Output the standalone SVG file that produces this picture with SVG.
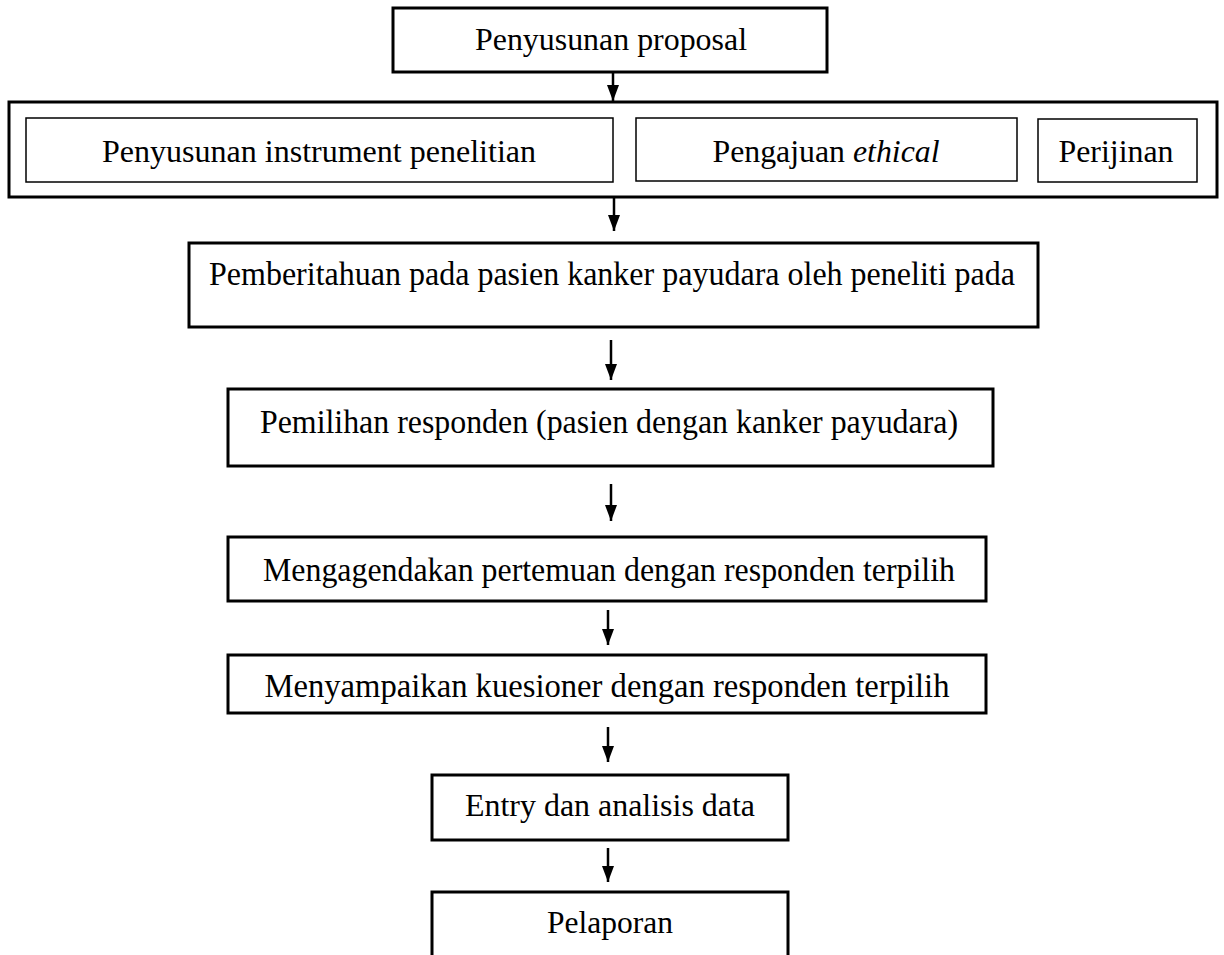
<svg xmlns="http://www.w3.org/2000/svg" width="1224" height="955" viewBox="0 0 1224 955">
<style>
.box{fill:#fff;stroke:#000;stroke-width:3}
.thin{fill:#fff;stroke:#000;stroke-width:1.5}
.t{font-family:"Liberation Serif","Times New Roman",serif;font-size:32px;fill:#000;text-anchor:middle}
.tl{font-size:34px}
.c{stroke:#000;stroke-width:2.5;fill:none;marker-end:url(#ah)}
</style>
<defs>
<marker id="ah" viewBox="0 0 16 12" refX="16" refY="6" markerWidth="16" markerHeight="12" markerUnits="userSpaceOnUse" orient="auto">
<path d="M0,0 L16,6 L0,12 z" fill="#000"/>
</marker>
</defs>
<rect width="1224" height="955" fill="#fff"/>
<g id="n1">
<rect class="box" x="393" y="8" width="434" height="64"/>
<text class="t" x="611" y="50" textLength="272" lengthAdjust="spacingAndGlyphs">Penyusunan proposal</text>
</g>
<g id="n2">
<rect class="box" x="9" y="102" width="1208" height="95"/>
<g id="n2a">
<rect class="thin" x="26" y="118" width="587" height="64"/>
<text class="t" x="319" y="162" textLength="434" lengthAdjust="spacingAndGlyphs">Penyusunan instrument penelitian</text>
</g>
<g id="n2b">
<rect class="thin" x="636" y="118" width="381" height="63"/>
<text class="t" x="826" y="162" textLength="227" lengthAdjust="spacingAndGlyphs">Pengajuan <tspan font-style="italic">ethical</tspan></text>
</g>
<g id="n2c">
<rect class="thin" x="1038" y="119" width="159" height="63"/>
<text class="t" x="1116" y="162" textLength="115" lengthAdjust="spacingAndGlyphs">Perijinan</text>
</g>
</g>
<g id="n3">
<rect class="box" x="189" y="243" width="849" height="84"/>
<text class="t tl" x="612" y="285" textLength="806" lengthAdjust="spacingAndGlyphs">Pemberitahuan pada pasien kanker payudara oleh peneliti pada</text>
</g>
<g id="n4">
<rect class="box" x="228" y="389" width="765" height="77"/>
<text class="t tl" x="609" y="433" textLength="698" lengthAdjust="spacingAndGlyphs">Pemilihan responden (pasien dengan kanker payudara)</text>
</g>
<g id="n5">
<rect class="box" x="228" y="537" width="758" height="64"/>
<text class="t tl" x="609" y="581" textLength="692" lengthAdjust="spacingAndGlyphs">Mengagendakan pertemuan dengan responden terpilih</text>
</g>
<g id="n6">
<rect class="box" x="228" y="655" width="758" height="58"/>
<text class="t tl" x="607" y="697" textLength="685" lengthAdjust="spacingAndGlyphs">Menyampaikan kuesioner dengan responden terpilih</text>
</g>
<g id="n7">
<rect class="box" x="432" y="775" width="356" height="65"/>
<text class="t" x="610" y="816" textLength="290" lengthAdjust="spacingAndGlyphs">Entry dan analisis data</text>
</g>
<g id="n8">
<path class="box" d="M432,960 V892 H788 V960"/>
<text class="t" x="610" y="933" textLength="126" lengthAdjust="spacingAndGlyphs">Pelaporan</text>
</g>
<g id="connectors">
<line class="c" x1="613" y1="72" x2="613" y2="101"/>
<line class="c" x1="614" y1="197" x2="614" y2="231"/>
<line class="c" x1="611" y1="340" x2="611" y2="380"/>
<line class="c" x1="611" y1="484" x2="611" y2="521"/>
<line class="c" x1="608" y1="610" x2="608" y2="645"/>
<line class="c" x1="608" y1="727" x2="608" y2="762"/>
<line class="c" x1="608" y1="848" x2="608" y2="882"/>
</g>
</svg>
